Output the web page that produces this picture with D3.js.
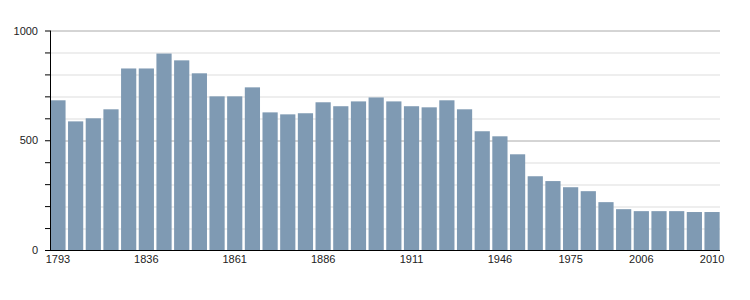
<!DOCTYPE html>
<html>
<head>
<meta charset="utf-8">
<script src="https://cdn.jsdelivr.net/npm/d3@7"></script>
<style>
  body { margin: 0; background: #fff; }
  text { font-family: "Liberation Sans", Arial, sans-serif; font-size: 11px; fill: #222; }
</style>
</head>
<body>
<div id="chart"></div>
<script>
var svgWidth = 750;
var svgHeight = 300;

var margin = { top: 30.5, right: 30, bottom: 50, left: 50 };

var chartWidth = 720 - margin.left;
var chartHeight = 250 - margin.top;

// census years and population
var years = ["1793", "1800", "1806", "1821", "1831", "1836", "1841", "1846", "1851", "1856",
  "1861", "1866", "1872", "1876", "1881", "1886", "1891", "1896", "1901", "1906",
  "1911", "1921", "1926", "1931", "1936", "1946", "1954", "1962", "1968", "1975",
  "1982", "1990", "1999", "2006", "2007", "2008", "2009", "2010"];
var population = [682, 586, 600, 641, 827, 827, 895, 864, 805, 700,
  700, 741, 627, 618, 623, 673, 655, 677, 695, 677,
  655, 650, 682, 641, 541, 518, 436, 336, 314, 286,
  268, 218, 186, 177, 177, 177, 173, 173];
var labelYears = ["1793", "1836", "1861", "1886", "1911", "1946", "1975", "2006", "2010"];
var majorTicks = [0, 500, 1000];
var minorTicks = [100, 200, 300, 400, 600, 700, 800, 900];

var svg = d3.select("#chart").append("svg")
  .attr("width", svgWidth)
  .attr("height", svgHeight);

var chartGroup = svg.append("g")
  .attr("transform", `translate(${margin.left}, ${margin.top})`);

var xScale = d3.scaleBand()
  .domain(years)
  .range([0, chartWidth])
  .paddingInner(0.14)
  .paddingOuter(0.02);

var yScale = d3.scaleLinear()
  .domain([0, 1000])
  .range([chartHeight, 0]);

// gridlines
chartGroup.selectAll(".minor")
  .data(minorTicks)
  .enter()
  .append("line")
  .attr("x1", 0)
  .attr("x2", chartWidth)
  .attr("y1", d => Math.round(yScale(d)) + 0.5)
  .attr("y2", d => Math.round(yScale(d)) + 0.5)
  .attr("stroke", "#dddddd");

chartGroup.selectAll(".major")
  .data(majorTicks.slice(1))
  .enter()
  .append("line")
  .attr("x1", 0)
  .attr("x2", chartWidth)
  .attr("y1", d => Math.round(yScale(d)) + 0.5)
  .attr("y2", d => Math.round(yScale(d)) + 0.5)
  .attr("stroke", "#aaaaaa");

// bars
chartGroup.selectAll("rect")
  .data(population)
  .enter()
  .append("rect")
  .attr("x", (d, i) => xScale(years[i]))
  .attr("y", d => yScale(d))
  .attr("width", xScale.bandwidth())
  .attr("height", d => chartHeight - yScale(d))
  .attr("fill", "#7f9ab3");

// y axis
var leftAxis = d3.axisLeft(yScale)
  .tickValues(majorTicks.concat(minorTicks))
  .tickSize(5)
  .tickFormat(d => majorTicks.includes(d) ? d : "");

var yAxis = chartGroup.append("g")
  .call(leftAxis);
yAxis.select(".domain").attr("stroke", "#000").attr("d", `M0.5,0V${chartHeight}`);
yAxis.selectAll(".tick line").attr("stroke", "#000").attr("x2", -5);
yAxis.selectAll(".tick text").attr("x", -12).attr("fill", "#222")
  .style("font-family", "'Liberation Sans', Arial, sans-serif").style("font-size", "11px");

// x axis
var bottomAxis = d3.axisBottom(xScale)
  .tickValues(labelYears)
  .tickSize(0)
  .tickPadding(5);

var xAxis = chartGroup.append("g")
  .attr("transform", `translate(0, ${chartHeight})`)
  .call(bottomAxis);
xAxis.select(".domain").attr("stroke", "#000").attr("d", `M-5,0.5H${chartWidth}`);
xAxis.selectAll(".tick text").attr("fill", "#222")
  .style("font-family", "'Liberation Sans', Arial, sans-serif").style("font-size", "11px");
</script>
</body>
</html>
